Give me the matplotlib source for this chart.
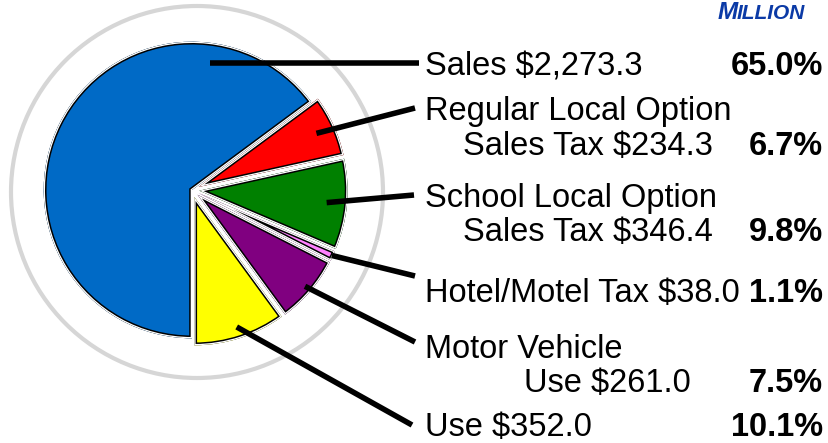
import numpy as np
import matplotlib
matplotlib.use("Agg")
import matplotlib.pyplot as plt
from matplotlib.patches import Circle, Wedge

# ---- data ----
categories = ["Sales", "Regular Local Option Sales Tax", "School Local Option Sales Tax",
              "Hotel/Motel Tax", "Motor Vehicle Use", "Use"]
values = [2273.3, 234.3, 346.4, 38.0, 261.0, 352.0]
percents = ["65.0%", "6.7%", "9.8%", "1.1%", "7.5%", "10.1%"]
label_line1 = ["Sales $2,273.3", "Regular Local Option", "School Local Option",
               "Hotel/Motel Tax $38.0", "Motor Vehicle", "Use $352.0"]
label_line2 = [None, "Sales Tax $234.3", "Sales Tax $346.4", None, "Use $261.0", None]
colors = ["#006ac6", "#ff0000", "#008000", "#ff80ff", "#800080", "#ffff00"]
explode_frac = [0.0, 0.05, 0.05, 0.05, 0.05, 0.05]

W, H = 829, 443
plt.rcParams['font.family'] = ['Liberation Sans', 'DejaVu Sans']
fig = plt.figure(figsize=(W / 100, H / 100), dpi=100)
ax = fig.add_axes([0, 0, 1, 1])

def Y(py):
    return H - py

PX = 0.72  # points per pixel at dpi 100
gap_px, border_px = 1.3, 1.5
cx, cy, R = 192, Y(190), 147
Rd = R + gap_px
explode = [e * R for e in explode_frac]
wedges, _ = ax.pie(values, colors=colors, explode=explode, startangle=-90,
                   counterclock=False, center=(cx, cy), radius=Rd,
                   wedgeprops=dict(edgecolor="none", linewidth=0))
# inner black border + white gap for every slice, clipped to the slice itself
for w in wedges:
    for col, lw in [("black", 2 * (gap_px + border_px)), ("white", 2 * gap_px)]:
        p = Wedge(w.center, w.r, w.theta1, w.theta2, facecolor="none",
                  edgecolor=col, linewidth=lw * PX, zorder=3, joinstyle="miter")
        ax.add_patch(p)
        p.set_clip_path(w)

ax.add_patch(Circle((197, Y(192)), 186, fill=False, ec="#d6d6d6", lw=3, zorder=0))

ax.set_xlim(0, W)
ax.set_ylim(0, H)
ax.set_aspect('auto')
ax.axis('off')

# ---- leader lines ----
fs = 23.5
line_ends = [(419, None), (415, Y(108)), (414, Y(195)), (415, Y(276)), (415, Y(342)), (412, Y(425))]
start_frac = [0.87, 0.88, 0.87, 1.0, 0.96, 0.93]
for i, w in enumerate(wedges):
    if i == 0:
        ang = np.deg2rad(82)
    else:
        ang = np.deg2rad((w.theta1 + w.theta2) / 2)
    wx, wy = w.center
    sx = wx + start_frac[i] * R * np.cos(ang)
    sy = wy + start_frac[i] * R * np.sin(ang)
    ex, ey = line_ends[i]
    if ey is None:
        ey = sy
    ax.plot([sx, ex], [sy, ey], color="black", lw=4, solid_capstyle="butt", zorder=5)

# ---- labels ----
base1 = [75, 120, 207, 302, 358, 436]
base2 = [None, 155, 241, None, 392, None]
right2 = [None, 713, 713, None, 691, None]
for i in range(len(categories)):
    ax.text(425, Y(base1[i]), label_line1[i], fontsize=fs, ha="left", va="baseline")
    if label_line2[i] is not None:
        ax.text(right2[i], Y(base2[i]), label_line2[i], fontsize=fs, ha="right", va="baseline")
        pb = base2[i]
    else:
        pb = base1[i]
    ax.text(823, Y(pb), percents[i], fontsize=fs, ha="right", va="baseline", fontweight="bold")

# ---- MILLION (small caps) ----
t2 = ax.text(805, Y(19), "ILLION", fontsize=15, fontweight="bold", fontstyle="italic",
             color="#0b3aa6", ha="right", va="baseline")
fig.canvas.draw()
bb = t2.get_window_extent()
ax.text(bb.x0 + 1, Y(19), "M", fontsize=17.5, fontweight="bold", fontstyle="italic",
        color="#0b3aa6", ha="right", va="baseline")

fig.savefig("out.png", dpi=100)
